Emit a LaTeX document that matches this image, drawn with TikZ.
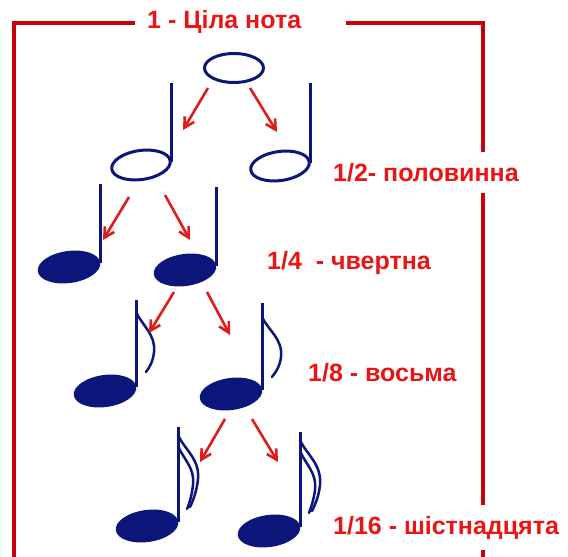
\documentclass[tikz,border=0pt]{standalone}
\usepackage{fontspec}
\setmainfont{Liberation Sans}
\usetikzlibrary{shapes.geometric,arrows.meta}

\definecolor{notecol}{RGB}{12,22,122}
\definecolor{textred}{RGB}{235,20,20}
\definecolor{framered}{RGB}{200,0,12}
\definecolor{arrowred}{RGB}{222,28,28}

\tikzset{
  frame/.style={draw=framered, line width=3.5pt},
  durtext/.style={text=textred, font=\fontsize{25}{29}\selectfont\bfseries, inner sep=0pt, anchor=base west},
  openhead/.style={ellipse, draw=notecol, line width=3pt, minimum width=59pt, minimum height=29pt, inner sep=0pt, rotate=8},
  fullhead/.style={ellipse, fill=notecol, minimum width=63pt, minimum height=32pt, inner sep=0pt, rotate=8},
  stem/.style={notecol, line width=3pt},
  flag/.style={notecol, line width=2.5pt, line cap=round},
  arr/.style={-{Straight Barb[length=10pt,width=11pt]}, arrowred, line width=2.6pt}
}

\begin{document}
\begin{tikzpicture}[x=1pt,y=1pt]
    \useasboundingbox (0,0) rectangle (568,557);

    % labels
    \node[durtext] (tWhole) at (147,528) {1 - Ціла нота};
    \node[durtext] (tHalf) at (333,375) {1/2- половинна};
    \node[durtext] (tQuarter) at (267,287) {1/4\ \ - чвертна};
    \node[durtext] (tEighth) at (308,175) {1/8 - восьма};
    \node[durtext] (tSixteenth) at (333,22) {1/16 - шістнадцята};

    % red frame, broken by the labels
    \draw[frame] (135,534) -| (14,0);
    \draw[frame] (346,534) -| (483,405);
    \draw[frame] (483,364) -- (483,52);
    \draw[frame] (483,7) -- (483,0);

    % whole note
    \node[openhead, rotate=-8] (whole) at (234,489) {};

    % half notes
    \node[openhead] (halfL) at (141,392) {};
    \node[openhead] (halfR) at (280,391) {};
    \draw[stem] (171,474) -- (171,395);
    \draw[stem] (310,474) -- (310,394);

    % quarter notes
    \node[fullhead] (quarterL) at (69,290) {};
    \node[fullhead] (quarterR) at (185,287) {};
    \draw[stem] (100,373) -- (100,294);
    \draw[stem] (216,370) -- (216,291);

    % eighth notes
    \node[fullhead] (eighthL) at (105,166) {};
    \node[fullhead] (eighthR) at (231,163) {};
    \draw[stem] (136,257) -- (136,170);
    \draw[stem] (262,254) -- (262,167);
    \draw[flag] (136,245) .. controls (142,232) and (156,222) .. (154,205)
        .. controls (153,196) and (150,190) .. (146,185);
    \draw[flag] (262,240) .. controls (268,227) and (283,218) .. (281,200)
        .. controls (280,191) and (276,185) .. (272,180);

    % sixteenth notes
    \node[fullhead] (sixteenthL) at (147,31) {};
    \node[fullhead] (sixteenthR) at (269,26) {};
    \draw[stem] (178,130) -- (178,35);
    \draw[stem] (300,125) -- (300,30);
    \draw[flag] (178,122) .. controls (184,108) and (200,98) .. (198,78)
        .. controls (197,68) and (194,58) .. (190,50);
    \draw[flag] (178,111) .. controls (184,97) and (195,89) .. (193,72)
        .. controls (192,63) and (190,55) .. (187,48);
    \draw[flag] (300,117) .. controls (306,103) and (322,93) .. (320,72)
        .. controls (319,62) and (316,54) .. (312,46);
    \draw[flag] (300,106) .. controls (306,92) and (317,84) .. (315,67)
        .. controls (314,59) and (312,52) .. (309,44);

    % arrow ends
    \coordinate (a1s) at (208,469); \coordinate (a1e) at (183,427);
    \coordinate (a2s) at (250,469); \coordinate (a2e) at (277,425);
    \coordinate (a3s) at (129,360); \coordinate (a3e) at (103,317);
    \coordinate (a4s) at (165,362); \coordinate (a4e) at (190,317);
    \coordinate (a5s) at (174,265); \coordinate (a5e) at (149,224);
    \coordinate (a6s) at (207,265); \coordinate (a6e) at (230,222);
    \coordinate (a7s) at (225,138); \coordinate (a7e) at (200,95);
    \coordinate (a8s) at (252,138); \coordinate (a8e) at (278,95);

    % red arrows
    \draw[arr] (a1s) -- (a1e);
    \draw[arr] (a2s) -- (a2e);
    \draw[arr] (a3s) -- (a3e);
    \draw[arr] (a4s) -- (a4e);
    \draw[arr] (a5s) -- (a5e);
    \draw[arr] (a6s) -- (a6e);
    \draw[arr] (a7s) -- (a7e);
    \draw[arr] (a8s) -- (a8e);

\end{tikzpicture}
\end{document}
